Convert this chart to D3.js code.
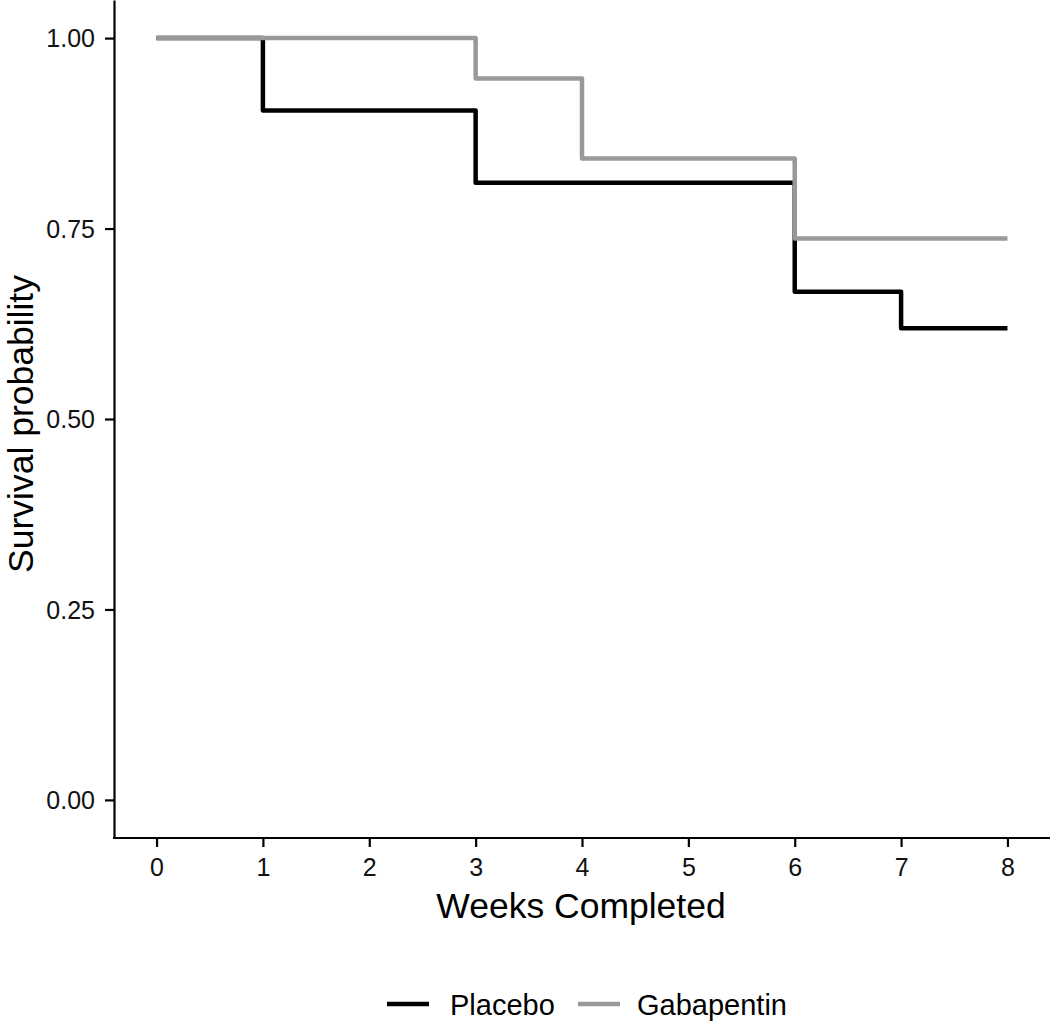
<!DOCTYPE html>
<html><head><meta charset="utf-8">
<script src="https://cdn.jsdelivr.net/npm/d3@7"></script>
<style>body{margin:0;background:#fff}svg{display:block;font-family:"Liberation Sans",Arial,sans-serif}</style>
</head><body><svg id="c" width="1050" height="1022"></svg>
<script>
const seriesNames = ["Placebo", "Gabapentin"];
const seriesColors = ["#000000", "#999999"];
const placeboTimes = [0, 1, 3, 6, 7, 8];
const placeboSurv = [1.0, 0.905, 0.810, 0.667, 0.619, 0.619];
const gabaTimes = [0, 3, 4, 6, 8];
const gabaSurv = [1.0, 0.947, 0.842, 0.737, 0.737];
const xTicks = [0, 1, 2, 3, 4, 5, 6, 7, 8];
const yTicks = [0, 0.25, 0.5, 0.75, 1.0];

const svg = d3.select("#c");
const pL = 114, pR = 1050, pT = 0, pB = 838;
const x = d3.scaleLinear().domain([-0.4, 8.4]).range([pL, pR]);
const y = d3.scaleLinear().domain([-0.05, 1.05]).range([pB, pT]);

const series = [
  {name: seriesNames[0], color: seriesColors[0], pts: placeboTimes.map((t,i)=>[t, placeboSurv[i]])},
  {name: seriesNames[1], color: seriesColors[1], pts: gabaTimes.map((t,i)=>[t, gabaSurv[i]])}
];
const line = d3.line().x(d=>x(d[0])).y(d=>y(d[1])).curve(d3.curveStepAfter);
series.forEach(s => {
  svg.append("path").attr("d", line(s.pts)).attr("fill","none")
    .attr("stroke", s.color).attr("stroke-width", 4.5).attr("stroke-linejoin","round").attr("stroke-linecap","butt");
});

const xa = svg.append("g").attr("transform",`translate(0,${pB})`)
  .call(d3.axisBottom(x).tickValues(xTicks).tickFormat(d3.format("d")).tickSize(9).tickSizeOuter(0));
const ya = svg.append("g").attr("transform",`translate(${pL},0)`)
  .call(d3.axisLeft(y).tickValues(yTicks).tickFormat(d3.format(".2f")).tickSize(9).tickSizeOuter(0));
[xa, ya].forEach(a => {
  a.select(".domain").attr("stroke","#000").attr("stroke-width",2.2);
  a.selectAll(".tick line").attr("stroke","#000").attr("stroke-width",2.2);
  a.selectAll(".tick text").attr("fill","#111").style("font-size","25px").style("font-family","'Liberation Sans',Arial,sans-serif");
});
xa.selectAll(".tick text").attr("dy", null).attr("y", 38);
ya.selectAll(".tick text").attr("x", -19).attr("dy","0.35em");
xa.select(".domain").attr("d", `M${pL-1},0H${pR}`);

svg.append("text").attr("x", 581).attr("y", 918).attr("text-anchor","middle")
  .style("font-size","35.5px").attr("fill","#000").text("Weeks Completed");
svg.append("text").attr("transform",`translate(33,424) rotate(-90)`).attr("text-anchor","middle")
  .style("font-size","35.5px").attr("fill","#000").text("Survival probability");

const lg = svg.append("g");
const legendItems = [{x0:387, tx:450}, {x0:578, tx:637}];
series.forEach((s,i) => {
  lg.append("line").attr("x1", legendItems[i].x0).attr("x2", legendItems[i].x0+42)
    .attr("y1", 1004).attr("y2", 1004).attr("stroke", s.color).attr("stroke-width", 4.5);
  lg.append("text").attr("x", legendItems[i].tx).attr("y", 1015).style("font-size","29px").attr("fill","#000").text(s.name);
});
</script></body></html>
